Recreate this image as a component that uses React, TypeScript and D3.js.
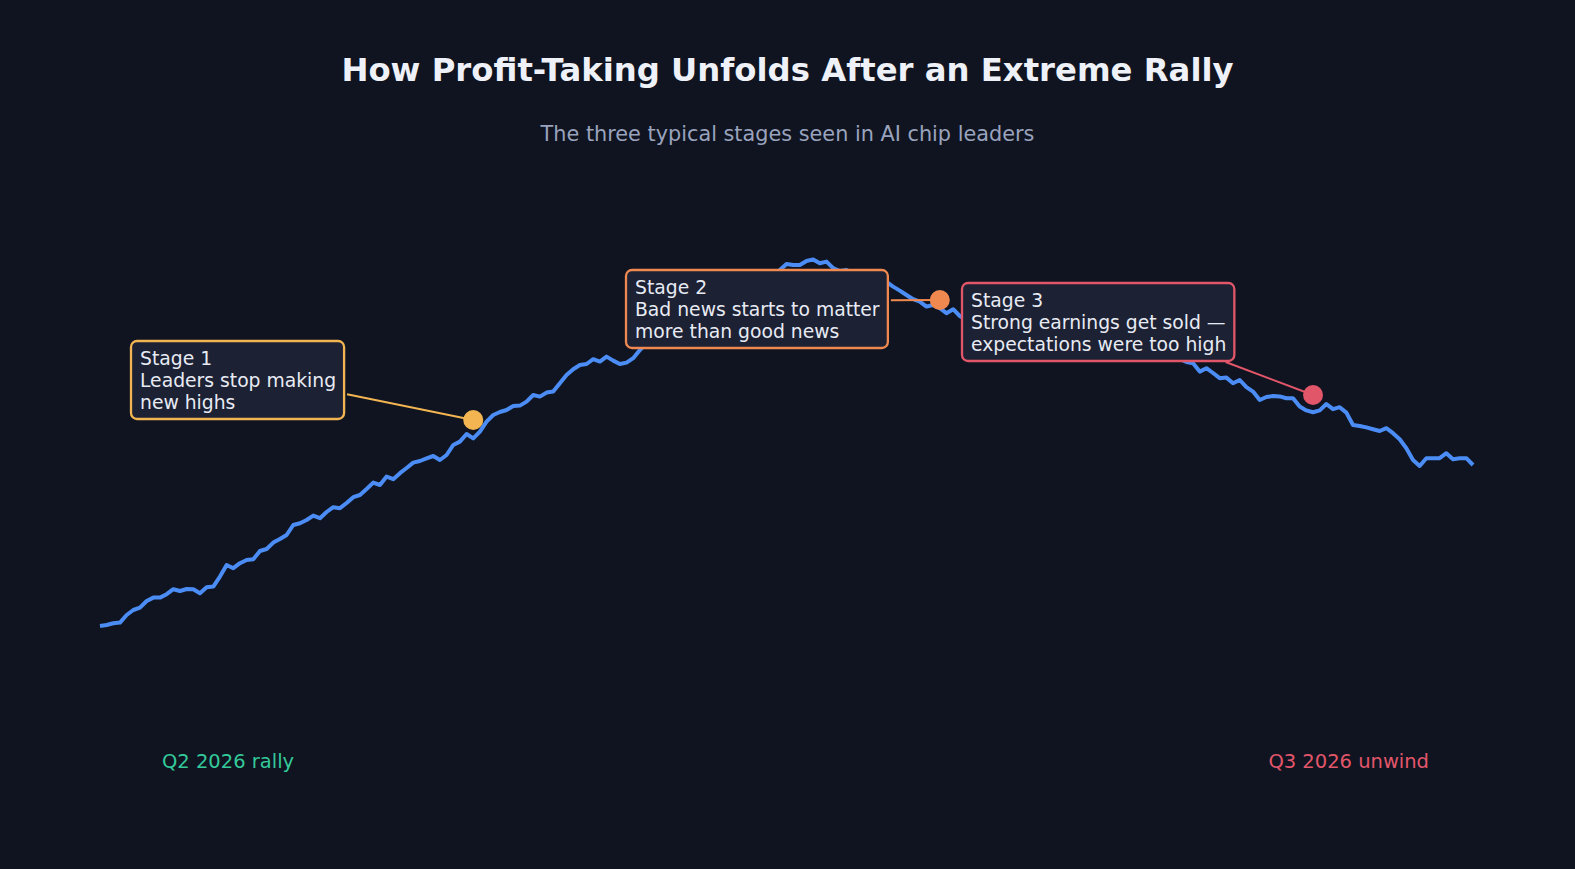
import React, { useRef, useEffect } from "react";
import * as d3 from "d3";

const W = 1575;
const H = 869;
const bg = "#0f1420";
const lineColor = "#4b8df5";
const boxFill = "#1c2133";
const boxText = "#e8ebf3";
const font = "DejaVu Sans, sans-serif";

// daily index level (parts hidden behind the boxes are estimated)
const price = [
  100, 100.5, 101.4, 101.7, 105.5, 108, 109.2, 112.5, 114.2, 114.2,
  115.9, 118.4, 117.5, 118.5, 118.4, 116.4, 119.4, 119.7, 124.7, 130.5,
  128.9, 131.4, 133, 133.4, 137.5, 138.5, 141.7, 143.5, 145.5, 150.5,
  151.4, 153, 155.2, 153.9, 157, 159.4, 158.9, 161.5, 164.4, 165.5,
  168.5, 171.7, 170.5, 174.7, 173.4, 176.4, 179, 181.7, 182.5, 183.8,
  185, 183, 185.5, 190.5, 192.2, 196, 193.8, 197.2, 202.2, 205.5,
  207, 208, 210, 210.2, 212.2, 215.5, 214.7, 216.7, 217.2, 221.4,
  225.5, 228.4, 230.5, 231, 233.4, 232.2, 234.7, 232.7, 231, 231.7,
  233.9, 238,
  241.5, 244, 246, 247.5, 250, 252, 253, 255.5, 254.5, 257.5,
  260, 261.5, 260.5, 264, 266.5, 268, 270, 269, 272.5, 275, 278,
  281, 280.5, 280.5, 282.5, 283.3, 281.4, 282.2, 278.9,
  277.5, 278, 276, 274.5, 275, 273, 271.5, 272,
  269.7, 267.7, 265.5, 263.4, 262.2, 259.7, 260.5, 258.9, 256.4, 258.4, 255, 253,
  253.5, 252, 252.5, 250.5, 249.5, 251, 249, 247.5, 248, 246.5,
  247, 245, 244, 245.5, 243.5, 242, 242.5, 241, 241.5, 239.5,
  238.5, 240, 238, 237, 237.5, 236, 236.5, 235, 234, 234.5, 233, 233.5, 232,
  231.4, 227.2, 228.9, 226.5, 223.9, 224.2, 221.4, 223, 219.4, 217.2,
  213, 214.5, 215, 214.8, 213.9, 213.9, 209.7, 207.8, 206.9, 207.8,
  211, 208.4, 209.4, 206.7, 200.5, 200, 199.3, 198.4, 197.5, 198.9,
  196.4, 193.4, 188.9, 183, 180, 183.9, 183.9, 183.9, 186.4, 183.4,
  183.9, 183.9, 180.5,
];

// the three stages
const stageIdx = [56, 126, 182];
const stageVal = [203, 263, 215.5];
const stageLines = [
  ["Stage 1", "Leaders stop making", "new highs"],
  ["Stage 2", "Bad news starts to matter", "more than good news"],
  ["Stage 3", "Strong earnings get sold —", "expectations were too high"],
];
const stageColors = ["#f2b552", "#f0894f", "#e2566a"];
// top-left corner of each note box, in pixels
const boxPos = [
  [131, 341],
  [626, 270],
  [962, 283],
];

const periodLabels = ["Q2 2026 rally", "Q3 2026 unwind"];
const periodColors = ["#34c99a", "#e2566a"];

const App: React.FC = () => {
  const ref = useRef<SVGSVGElement | null>(null);

  useEffect(() => {
    document.body.style.margin = "0";
    document.body.style.background = bg;
    if (!ref.current) return;

    const svg = d3.select(ref.current);
    svg.selectAll("*").remove();

    svg.append("rect").attr("width", W).attr("height", H).attr("fill", bg);

    // titles
    svg
      .append("text")
      .attr("x", W / 2)
      .attr("y", 81)
      .attr("text-anchor", "middle")
      .attr("font-family", font)
      .attr("font-weight", "bold")
      .attr("font-size", 32.3)
      .attr("fill", "#eef1f8")
      .text("How Profit-Taking Unfolds After an Extreme Rally");

    svg
      .append("text")
      .attr("x", W / 2)
      .attr("y", 140.5)
      .attr("text-anchor", "middle")
      .attr("font-family", font)
      .attr("font-size", 20.8)
      .attr("fill", "#9aa3bd")
      .text("The three typical stages seen in AI chip leaders");

    const x = d3.scaleLinear().domain([0, price.length - 1]).range([100, 1473]);
    const y = d3.scaleLinear().domain([60, 320]).range([706, 186]);

    const line = d3
      .line<number>()
      .x((_, i) => x(i))
      .y((d) => y(d));

    svg
      .append("path")
      .datum(price)
      .attr("d", line)
      .attr("fill", "none")
      .attr("stroke", lineColor)
      .attr("stroke-width", 4)
      .attr("stroke-linejoin", "round");

    const connG = svg.append("g");
    const boxG = svg.append("g");
    const dotG = svg.append("g");

    stageLines.forEach((lines, i) => {
      const [bx, by] = boxPos[i];
      const g = boxG.append("g");
      const rect = g.append("rect");
      const text = g
        .append("text")
        .attr("font-family", font)
        .attr("font-size", 18.75)
        .attr("fill", boxText);
      lines.forEach((l, j) => {
        text.append("tspan").attr("x", bx + 9).attr("y", by + 24 + j * 22).text(l);
      });
      const tw = (text.node() as SVGTextElement).getBBox().width;
      const bw = tw + 17;
      const bh = 78;
      rect
        .attr("x", bx)
        .attr("y", by)
        .attr("width", bw)
        .attr("height", bh)
        .attr("rx", 6)
        .attr("fill", boxFill)
        .attr("stroke", stageColors[i])
        .attr("stroke-width", 2.3);

      // connector from the box edge to the dot
      const px = x(stageIdx[i]);
      const py = y(stageVal[i]);
      const cx = bx + bw / 2;
      const cy = by + bh / 2 - 8;
      const dx = px - cx;
      const dy = py - cy;
      const tx = dx > 0 ? (bx + bw - cx) / dx : (bx - cx) / dx;
      const ty = dy > 0 ? (by + bh - cy) / dy : (by - cy) / dy;
      const t = Math.min(Math.abs(tx), Math.abs(ty));
      const len = Math.hypot(dx, dy);
      const t2 = t + 3 / len;
      connG
        .append("line")
        .attr("x1", cx + dx * t2)
        .attr("y1", cy + dy * t2)
        .attr("x2", px)
        .attr("y2", py)
        .attr("stroke", stageColors[i])
        .attr("stroke-width", 2);

      dotG
        .append("circle")
        .attr("cx", px)
        .attr("cy", py)
        .attr("r", 10)
        .attr("fill", stageColors[i]);
    });

    // period labels
    svg
      .append("text")
      .attr("x", 162)
      .attr("y", 768)
      .attr("font-family", font)
      .attr("font-size", 19.5)
      .attr("fill", periodColors[0])
      .text(periodLabels[0]);

    svg
      .append("text")
      .attr("x", 1429)
      .attr("y", 768)
      .attr("text-anchor", "end")
      .attr("font-family", font)
      .attr("font-size", 19.5)
      .attr("fill", periodColors[1])
      .text(periodLabels[1]);

    return () => {
      svg.selectAll("*").remove();
    };
  }, []);

  return (
    <svg
      ref={ref}
      width={W}
      height={H}
      style={{ position: "absolute", left: 0, top: 0, display: "block" }}
    ></svg>
  );
};

export default App;
